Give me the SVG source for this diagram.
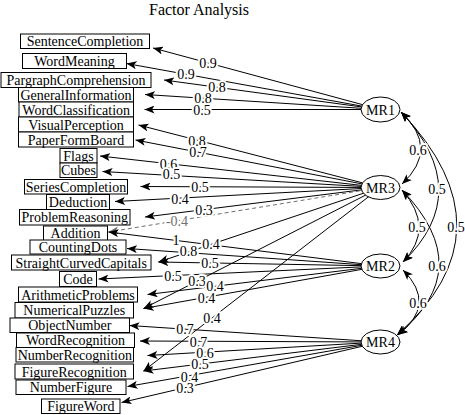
<svg xmlns="http://www.w3.org/2000/svg" width="465" height="415" viewBox="0 0 465 415">
<defs>
<style>
.box{fill:#fff;stroke:#000;stroke-width:1}
.fac{fill:#fff;stroke:#000;stroke-width:1}
.t{font-family:"Liberation Serif","Times New Roman",serif;font-size:14px;text-anchor:middle;fill:#000}
.ttl{font-family:"Liberation Serif","Times New Roman",serif;font-size:16px;text-anchor:middle;fill:#000}
.e{stroke:#000;stroke-width:1;fill:none;marker-end:url(#ah)}
.neg{stroke:#707070;stroke-width:1;fill:none;stroke-dasharray:4 3;marker-end:url(#ahg)}
.c{stroke:#000;stroke-width:1;fill:none;marker-start:url(#ah);marker-end:url(#ah)}
.l{font-family:"Liberation Serif","Times New Roman",serif;font-size:14px;text-anchor:middle;fill:#000;paint-order:stroke;stroke:#fff;stroke-width:4;stroke-linejoin:round}
.ln{fill:#707070}
</style>
<marker id="ah" viewBox="0 0 10 8" refX="10" refY="4" markerWidth="10" markerHeight="8" markerUnits="userSpaceOnUse" orient="auto-start-reverse"><path d="M0,0 L10,4 L0,8 L2.5,4 Z" fill="#000"/></marker>
<marker id="ahg" viewBox="0 0 10 8" refX="10" refY="4" markerWidth="10" markerHeight="8" markerUnits="userSpaceOnUse" orient="auto-start-reverse"><path d="M0,0 L10,4 L0,8 L2.5,4 Z" fill="#707070"/></marker>
</defs>
<rect width="465" height="415" fill="#fff"/>
<text class="ttl" x="199" y="15">Factor Analysis</text>

<g id="connectors">
<!-- MR1 -->
<line class="e" x1="380.5" y1="109.5" x2="153" y2="48"/>
<line class="e" x1="380.5" y1="109.5" x2="126.5" y2="63.5"/>
<line class="e" x1="380.5" y1="109.5" x2="164" y2="80"/>
<line class="e" x1="380.5" y1="109.5" x2="145" y2="94.5"/>
<line class="e" x1="380.5" y1="109.5" x2="144.5" y2="109.5"/>
<!-- MR3 -->
<line class="e" x1="380.5" y1="187.5" x2="138.5" y2="125"/>
<line class="e" x1="380.5" y1="187.5" x2="135.5" y2="140"/>
<line class="e" x1="380.5" y1="187.5" x2="100" y2="156"/>
<line class="e" x1="380.5" y1="187.5" x2="102.5" y2="171.5"/>
<line class="e" x1="380.5" y1="187.5" x2="140.5" y2="186.5"/>
<line class="e" x1="380.5" y1="187.5" x2="115" y2="201.5"/>
<line class="e" x1="380.5" y1="187.5" x2="145" y2="217"/>
<line class="neg" x1="380.5" y1="187.5" x2="108.5" y2="232"/>
<line class="e" x1="380.5" y1="187.5" x2="158.5" y2="262"/>
<line class="e" x1="380.5" y1="187.5" x2="143.5" y2="308.5"/>
<line class="e" x1="380.5" y1="187.5" x2="143.5" y2="371"/>
<!-- MR2 -->
<line class="e" x1="380.5" y1="266" x2="108.5" y2="232"/>
<line class="e" x1="380.5" y1="266" x2="127" y2="248.5"/>
<line class="e" x1="380.5" y1="266" x2="158.5" y2="262"/>
<line class="e" x1="380.5" y1="266" x2="98.5" y2="279"/>
<line class="e" x1="380.5" y1="266" x2="147.5" y2="294.5"/>
<line class="e" x1="380.5" y1="266" x2="143.5" y2="308.5"/>
<!-- MR4 -->
<line class="e" x1="380.5" y1="342" x2="129.5" y2="325.5"/>
<line class="e" x1="380.5" y1="342" x2="140" y2="341"/>
<line class="e" x1="380.5" y1="342" x2="147.5" y2="355.5"/>
<line class="e" x1="380.5" y1="342" x2="143.5" y2="371"/>
<line class="e" x1="380.5" y1="342" x2="127.5" y2="386.5"/>
<line class="e" x1="380.5" y1="342" x2="121.5" y2="402.5"/>
<!-- factor correlations -->
<path class="c" d="M401,112 Q440,148.5 402,184"/>
<path class="c" d="M401,112 Q475.5,191.5 403,262"/>
<path class="c" d="M401,112 Q514.5,231 397,335"/>
<path class="c" d="M402,190 Q435.5,228 403,262"/>
<path class="c" d="M402,190 Q478.5,269.5 397,335"/>
<path class="c" d="M403,270 Q437.5,304.5 398,335"/>
<g id="edge-labels">
<text class="l" x="208" y="67.7">0.9</text>
<text class="l" x="186" y="78.7">0.9</text>
<text class="l" x="217" y="91.7">0.8</text>
<text class="l" x="203" y="102.7">0.8</text>
<text class="l" x="202" y="114.7">0.5</text>
<text class="l" x="197" y="145.7">0.8</text>
<text class="l" x="198" y="157.2">0.7</text>
<text class="l" x="168.5" y="168.7">0.6</text>
<text class="l" x="171.5" y="179.2">0.5</text>
<text class="l" x="200" y="191.7">0.5</text>
<text class="l" x="180" y="203.7">0.4</text>
<text class="l" x="204" y="214.7">0.3</text>
<text class="l ln" x="177" y="225.7">-0.4</text>
<text class="l" x="211" y="249.2">0.4</text>
<text class="l" x="197" y="286.2">0.3</text>
<text class="l" x="212" y="322.7">0.4</text>
<text class="l" x="176" y="245.2">1</text>
<text class="l" x="188.5" y="256.2">0.8</text>
<text class="l" x="210" y="268.2">0.5</text>
<text class="l" x="173" y="280.7">0.5</text>
<text class="l" x="215" y="291.2">0.4</text>
<text class="l" x="206.5" y="302.7">0.4</text>
<text class="l" x="185" y="334.2">0.7</text>
<text class="l" x="198.5" y="346.7">0.7</text>
<text class="l" x="205" y="357.7">0.6</text>
<text class="l" x="200" y="369.2">0.5</text>
<text class="l" x="189.5" y="381.7">0.4</text>
<text class="l" x="185" y="392.7">0.3</text>
<text class="l" x="418" y="154.7">0.6</text>
<text class="l" x="437" y="193.7">0.5</text>
<text class="l" x="456" y="231.7">0.5</text>
<text class="l" x="417" y="231.7">0.5</text>
<text class="l" x="437" y="270.7">0.6</text>
<text class="l" x="418" y="308.2">0.6</text>
</g>
</g>

<g id="SentenceCompletion"><rect class="box" x="20.5" y="34" width="129" height="14.5"/><text class="t" x="85" y="46">SentenceCompletion</text></g>
<g id="WordMeaning"><rect class="box" x="22.5" y="53.5" width="104" height="15"/><text class="t" x="74.5" y="66">WordMeaning</text></g>
<g id="PargraphComprehension"><rect class="box" x="1" y="72.5" width="150" height="15"/><text class="t" x="76" y="85">PargraphComprehension</text></g>
<g id="GeneralInformation"><rect class="box" x="18.5" y="87.5" width="115" height="14.5"/><text class="t" x="76" y="99.7">GeneralInformation</text></g>
<g id="WordClassification"><rect class="box" x="19" y="102" width="114.5" height="15"/><text class="t" x="76.2" y="114.5">WordClassification</text></g>
<g id="VisualPerception"><rect class="box" x="18.5" y="117" width="115" height="15"/><text class="t" x="76" y="129.5">VisualPerception</text></g>
<g id="PaperFormBoard"><rect class="box" x="18.5" y="132" width="115" height="15"/><text class="t" x="76" y="144.5">PaperFormBoard</text></g>
<g id="Flags"><rect class="box" x="60" y="148.5" width="37" height="14.5"/><text class="t" x="78.5" y="160.7">Flags</text></g>
<g id="Cubes"><rect class="box" x="60" y="163" width="37" height="14.5"/><text class="t" x="78.5" y="175.2">Cubes</text></g>
<g id="SeriesCompletion"><rect class="box" x="24.5" y="179.5" width="103" height="14.5"/><text class="t" x="76" y="191.7">SeriesCompletion</text></g>
<g id="Deduction"><rect class="box" x="46.5" y="194.5" width="63" height="15"/><text class="t" x="78" y="207">Deduction</text></g>
<g id="ProblemReasoning"><rect class="box" x="19.5" y="209.5" width="110.5" height="15.5"/><text class="t" x="74.8" y="222.2">ProblemReasoning</text></g>
<g id="Addition"><rect class="box" x="43.5" y="226" width="64" height="14.5"/><text class="t" x="75.5" y="238.2">Addition</text></g>
<g id="CountingDots"><rect class="box" x="30" y="240" width="96" height="14"/><text class="t" x="78" y="252">CountingDots</text></g>
<g id="StraightCurvedCapitals"><rect class="box" x="11.5" y="255" width="139.5" height="15"/><text class="t" x="81.2" y="267.5">StraightCurvedCapitals</text></g>
<g id="Code"><rect class="box" x="59.5" y="271.5" width="37" height="15"/><text class="t" x="78" y="284">Code</text></g>
<g id="ArithmeticProblems"><rect class="box" x="18.5" y="287" width="119" height="15"/><text class="t" x="78" y="299.5">ArithmeticProblems</text></g>
<g id="NumericalPuzzles"><rect class="box" x="15" y="302.5" width="118.5" height="15.5"/><text class="t" x="74.2" y="315.2">NumericalPuzzles</text></g>
<g id="ObjectNumber"><rect class="box" x="10" y="318" width="119.5" height="14.5"/><text class="t" x="69.8" y="330.2">ObjectNumber</text></g>
<g id="WordRecognition"><rect class="box" x="16.5" y="333" width="118" height="14.5"/><text class="t" x="75.5" y="345.2">WordRecognition</text></g>
<g id="NumberRecognition"><rect class="box" x="16" y="347.5" width="117.5" height="14.5"/><text class="t" x="74.8" y="359.7">NumberRecognition</text></g>
<g id="FigureRecognition"><rect class="box" x="15" y="364" width="118.5" height="15"/><text class="t" x="74.2" y="376.5">FigureRecognition</text></g>
<g id="NumberFigure"><rect class="box" x="16" y="380" width="110" height="14.5"/><text class="t" x="71" y="392.2">NumberFigure</text></g>
<g id="FigureWord"><rect class="box" x="41.5" y="399" width="78.5" height="14.5"/><text class="t" x="80.8" y="411.2">FigureWord</text></g>

<g id="MR1"><ellipse class="fac" cx="380.5" cy="109.5" rx="19.5" ry="12.5"/><text class="t" x="380.5" y="114.5">MR1</text></g>
<g id="MR3"><ellipse class="fac" cx="380.5" cy="187.5" rx="19.5" ry="12"/><text class="t" x="380.5" y="192.5">MR3</text></g>
<g id="MR2"><ellipse class="fac" cx="380.5" cy="266" rx="19.5" ry="12"/><text class="t" x="380.5" y="271">MR2</text></g>
<g id="MR4"><ellipse class="fac" cx="380.5" cy="342" rx="19.5" ry="12"/><text class="t" x="380.5" y="347">MR4</text></g>
</svg>
